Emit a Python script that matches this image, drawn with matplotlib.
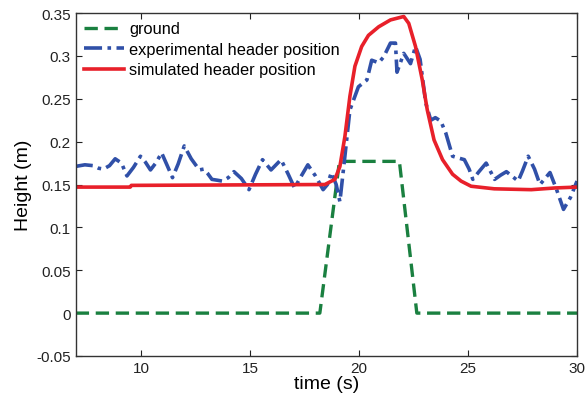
import matplotlib
matplotlib.use("Agg")
import matplotlib.pyplot as plt

plt.rcParams['font.family'] = ['Liberation Sans', 'DejaVu Sans']

# ground profile
t_ground = [7, 18.2, 19.1, 21.85, 22.65, 30]
h_ground = [0, 0, 0.177, 0.177, 0, 0]

# experimental header position
t_exp = [6.96, 7.42, 7.8, 8.05, 8.27, 8.55, 8.81, 9.1, 9.35, 9.65, 9.97, 10.2, 10.43,
         10.7, 10.94, 11.2, 11.44, 11.7, 11.98, 12.3, 12.67, 12.87, 13.05, 13.25,
         13.5, 13.72, 14.0, 14.26, 14.6, 14.95, 15.25, 15.57, 15.96, 16.42, 16.75,
         17.04, 17.35, 17.65, 18.0, 18.35, 18.55, 18.73, 18.95, 19.12, 19.35, 19.58,
         19.97, 20.36, 20.58, 20.9, 21.13, 21.44, 21.67, 21.74, 22.05, 22.36, 22.59,
         22.8, 23.06, 23.29, 23.5, 23.75, 23.98, 24.29, 24.55, 24.83, 25.05, 25.22,
         25.5, 25.83, 26.22, 26.5, 26.76, 27.3, 27.5, 27.76, 28.05, 28.3, 28.76,
         29.05, 29.38, 29.7, 30.0]
h_exp = [0.171, 0.173, 0.172, 0.169, 0.168, 0.172, 0.180, 0.175, 0.160, 0.170, 0.183,
         0.176, 0.167, 0.176, 0.187, 0.172, 0.158, 0.174, 0.195, 0.180, 0.167, 0.168,
         0.163, 0.156, 0.155, 0.154, 0.158, 0.165, 0.157, 0.144, 0.162, 0.179, 0.167,
         0.179, 0.162, 0.146, 0.160, 0.173, 0.160, 0.144, 0.150, 0.164, 0.150, 0.130,
         0.183, 0.237, 0.264, 0.272, 0.295, 0.292, 0.299, 0.315, 0.315, 0.281, 0.303,
         0.291, 0.311, 0.296, 0.245, 0.225, 0.228, 0.224, 0.210, 0.183, 0.181, 0.179,
         0.168, 0.156, 0.165, 0.175, 0.156, 0.161, 0.165, 0.154, 0.166, 0.183, 0.168,
         0.150, 0.164, 0.145, 0.121, 0.135, 0.154]

# simulated header position
t_sim = [7, 9.5, 9.55, 18.43, 18.89, 19.12, 19.35, 19.58, 19.81, 20.12, 20.43, 20.9,
         21.44, 22.05, 22.28, 22.59, 22.9, 23.13, 23.44, 23.83, 24.29, 24.68, 25.14,
         26.2, 27.9, 29, 30]
h_sim = [0.147, 0.147, 0.149, 0.150, 0.156, 0.171, 0.206, 0.253, 0.288, 0.311, 0.324,
         0.334, 0.342, 0.346, 0.338, 0.311, 0.272, 0.237, 0.202, 0.179, 0.162, 0.154,
         0.148, 0.145, 0.144, 0.146, 0.147]

fig = plt.figure(figsize=(5.87, 4.02), dpi=100)
ax = fig.add_axes([0.129, 0.112, 0.854, 0.853])

ax.plot(t_ground, h_ground, color='#1a8040', lw=2.4, ls=(0, (4, 2)), label='ground')
ax.plot(t_exp, h_exp, color='#3050a8', lw=2.6, ls=(0, (5, 1.5, 1, 1.5)),
        label='experimental header position')
ax.plot(t_sim, h_sim, color='#e8202a', lw=2.6, label='simulated header position')

ax.set_xlim(7, 30)
ax.set_ylim(-0.05, 0.35)
ax.set_xticks([10, 15, 20, 25, 30])
ax.set_yticks([-0.05, 0, 0.05, 0.1, 0.15, 0.2, 0.25, 0.3, 0.35])
ax.set_yticklabels(['-0.05', '0', '0.05', '0.1', '0.15', '0.2', '0.25', '0.3', '0.35'])
ax.tick_params(direction='in', top=True, right=True, labelsize=11, length=4,
               colors='#222222')
for s in ax.spines.values():
    s.set_color('#333333')
    s.set_linewidth(1.0)

ax.set_xlabel('time (s)', fontsize=14, labelpad=0)
ax.set_ylabel('Height (m)', fontsize=14, labelpad=3)

ax.legend(loc='upper left', frameon=False, fontsize=11.8, handlelength=2.45,
          borderaxespad=0.2, labelspacing=0.34, handletextpad=0.3,
          borderpad=0.3)

fig.savefig('out.png', dpi=100)
